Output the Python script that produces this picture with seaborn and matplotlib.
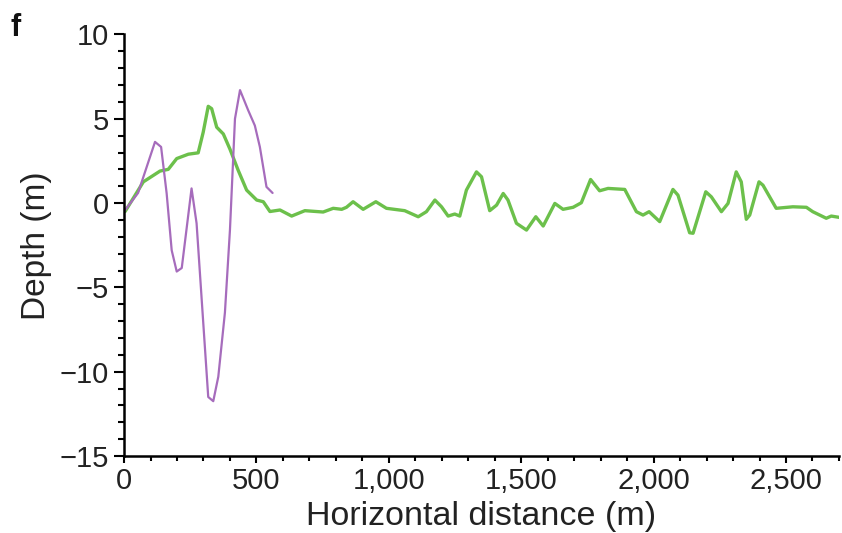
import matplotlib
matplotlib.use("Agg")
import matplotlib.pyplot as plt
from matplotlib.ticker import MultipleLocator, FuncFormatter
import seaborn as sns
import pandas as pd

# Green profile
green_x = [4, 73, 136, 167, 199, 243, 280, 299, 318, 331, 350, 375, 400, 431, 463,
           501, 526, 551, 589, 633, 683, 752, 790, 822, 840, 865, 903, 951, 991,
           1060, 1111, 1142, 1174, 1199, 1224, 1249, 1268, 1293, 1331, 1350, 1381,
           1407, 1432, 1450, 1482, 1520, 1555, 1583, 1627, 1658, 1696, 1727, 1762,
           1796, 1828, 1891, 1935, 1960, 1983, 2023, 2073, 2092, 2136, 2149, 2197,
           2218, 2256, 2281, 2312, 2331, 2350, 2363, 2398, 2413, 2463, 2526, 2577,
           2601, 2652, 2671, 2702]
green_y = [-0.5, 1.26, 1.9, 2.0, 2.64, 2.9, 2.98, 4.2, 5.74, 5.6, 4.5, 4.1, 3.2, 1.95, 0.77,
           0.18, 0.08, -0.5, -0.41, -0.77, -0.45, -0.53, -0.31, -0.37, -0.25, 0.08, -0.37,
           0.08, -0.31, -0.45, -0.81, -0.51, 0.18, -0.22, -0.77, -0.65, -0.77, 0.77, 1.85,
           1.56, -0.45, -0.12, 0.57, 0.18, -1.2, -1.6, -0.81, -1.36, -0.02, -0.37, -0.25,
           0.02, 1.4, 0.73, 0.87, 0.81, -0.51, -0.71, -0.51, -1.1, 0.81, 0.47, -1.76,
           -1.79, 0.67, 0.37, -0.51, -0.02, 1.85, 1.26, -0.96, -0.71, 1.26, 1.06, -0.31,
           -0.22, -0.25, -0.51, -0.9, -0.77, -0.85]

# Purple profile
purple_x = [0, 53, 117, 140, 161, 180, 199, 218, 255, 274, 318, 337, 356, 381, 400,
            419, 438, 469, 494, 513, 538, 561]
purple_y = [-0.5, 0.6, 3.63, 3.33, 0.57, -2.8, -4.06, -3.85, 0.87, -1.2, -11.5, -11.75,
            -10.3, -6.5, -1.6, 5.0, 6.7, 5.5, 4.6, 3.33, 0.96, 0.6]

x_ticks = [0, 500, 1000, 1500, 2000, 2500]
y_ticks = [-15, -10, -5, 0, 5, 10]

sns.set_theme(style="ticks")
plt.rcParams['font.family'] = ['Liberation Sans', 'DejaVu Sans']

fig = plt.figure(figsize=(8.42, 5.33), dpi=100)
ax = fig.add_axes([0.1473, 0.1445, 0.8491, 0.7908])

df_g = pd.DataFrame({"x": green_x, "y": green_y})
df_p = pd.DataFrame({"x": purple_x, "y": purple_y})
sns.lineplot(data=df_g, x="x", y="y", ax=ax, sort=False, estimator=None,
             color="#6cc04b", linewidth=2.4, solid_joinstyle="round",
             solid_capstyle="round")
sns.lineplot(data=df_p, x="x", y="y", ax=ax, sort=False, estimator=None,
             color="#a66cbc", linewidth=1.6, solid_joinstyle="round")

ax.set_xlim(0, 2700)
ax.set_ylim(-15, 10)
ax.set_xticks(x_ticks)
ax.set_yticks(y_ticks)
ax.xaxis.set_minor_locator(MultipleLocator(100))
ax.yaxis.set_minor_locator(MultipleLocator(1))
ax.xaxis.set_major_formatter(FuncFormatter(lambda v, p: f"{int(v):,}"))
ax.yaxis.set_major_formatter(FuncFormatter(lambda v, p: f"{int(v)}".replace("-", "\u2212")))

for s in ["top", "right"]:
    ax.spines[s].set_visible(False)
for s in ["left", "bottom"]:
    ax.spines[s].set_linewidth(1.8)
    ax.spines[s].set_color("black")

ax.tick_params(axis="y", which="major", length=7, width=1.5, pad=4,
               labelsize=21, colors="black", labelcolor="#222222")
ax.tick_params(axis="y", which="minor", length=4.5, width=1.5, colors="black")
ax.tick_params(axis="x", which="major", length=5, width=1.5, pad=3,
               labelsize=21, colors="black", labelcolor="#222222")
ax.tick_params(axis="x", which="minor", length=3.5, width=1.5, colors="black")

ax.set_xlabel("Horizontal distance (m)", fontsize=24.5, color="#222222", labelpad=4)
ax.set_ylabel("Depth (m)", fontsize=24, color="#222222", labelpad=5)

fig.text(0.012, 0.975, "f", fontsize=22, fontweight="bold", va="top", ha="left",
         color="#111111")

fig.savefig("out.png", dpi=100)
